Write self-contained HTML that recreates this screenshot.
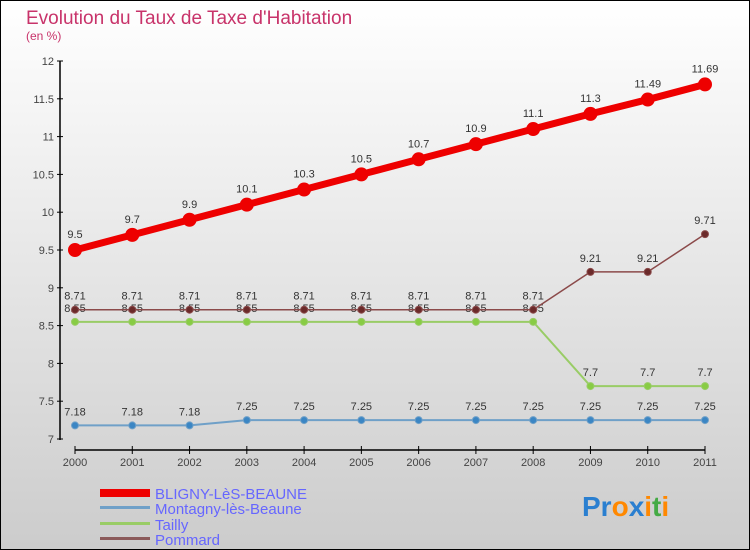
<!DOCTYPE html>
<html><head><meta charset="utf-8"><style>
body{margin:0}
svg{display:block;font-family:"Liberation Sans",sans-serif}
</style></head><body>
<svg id="chart" width="750" height="550">
<defs><linearGradient id="bg" x1="0" y1="0" x2="0" y2="1"><stop offset="0" stop-color="#ffffff"/><stop offset="1" stop-color="#cccccc"/></linearGradient></defs>
<rect x="0.5" y="0.5" width="749" height="549" fill="url(#bg)" stroke="#000"/>
<text x="26" y="24" font-size="19" fill="#c8336a">Evolution du Taux de Taxe d'Habitation</text>
<text x="26" y="40" font-size="12" fill="#c8336a">(en %)</text>
<g id="axes"></g><g id="series"></g>
<g>
<rect x="100" y="489" width="50" height="8" fill="#e00"/>
<text x="155" y="499" font-size="15" fill="#6666ff">BLIGNY-LèS-BEAUNE</text>
<rect x="100" y="506" width="50" height="3" fill="#6fa0c8"/>
<text x="155" y="514" font-size="15" fill="#6666ff">Montagny-lès-Beaune</text>
<rect x="100" y="522" width="50" height="3" fill="#99cc66"/>
<text x="155" y="530" font-size="15" fill="#6666ff">Tailly</text>
<rect x="100" y="537" width="50" height="3" fill="#8b5a5a"/>
<text x="155" y="545" font-size="15" fill="#6666ff">Pommard</text>
</g>
<g font-size="28" font-weight="bold">
<text x="582" y="516"><tspan fill="#2a7fd0">Pr</tspan><tspan fill="#ff8800">o</tspan><tspan fill="#2a7fd0">x</tspan><tspan fill="#ff8800">i</tspan><tspan fill="#44aa44">t</tspan><tspan fill="#ff8800">i</tspan></text>
</g>
</svg>
<script>
const years=[2000,2001,2002,2003,2004,2005,2006,2007,2008,2009,2010,2011];
const bligny=[9.5,9.7,9.9,10.1,10.3,10.5,10.7,10.9,11.1,11.3,11.49,11.69];
const montagny=[7.18,7.18,7.18,7.25,7.25,7.25,7.25,7.25,7.25,7.25,7.25,7.25];
const tailly=[8.55,8.55,8.55,8.55,8.55,8.55,8.55,8.55,8.55,7.7,7.7,7.7];
const pommard=[8.71,8.71,8.71,8.71,8.71,8.71,8.71,8.71,8.71,9.21,9.21,9.71];
const yTicks=[7,7.5,8,8.5,9,9.5,10,10.5,11,11.5,12];
const NS="http://www.w3.org/2000/svg";
const x=i=>75+i*(705-75)/(years.length-1);
const y=v=>439-(v-7)*(439-61)/5;
function mk(tag,attrs,parent){const e=document.createElementNS(NS,tag);for(const k in attrs)e.setAttribute(k,attrs[k]);parent.appendChild(e);return e;}
const ax=document.getElementById('axes');
let yl=mk('line',{x1:60,y1:61,x2:60,y2:440,stroke:'#000','stroke-width':1.5},ax);


let xl=mk('line',{x1:75,y1:450,x2:705,y2:450,stroke:'#000','stroke-width':1.5},ax);


yTicks.forEach(t=>{
 mk('line',{x1:57,x2:63,y1:y(t),y2:y(t),stroke:'#000'},ax);
 const tx=mk('text',{x:54,y:y(t)+4,'font-size':11,fill:'#444','text-anchor':'end'},ax);
 tx.textContent=String(t);
 
 
});
years.forEach((yr,i)=>{
 mk('line',{x1:x(i),x2:x(i),y1:446,y2:454,stroke:'#000'},ax);
 const tx=mk('text',{x:x(i),y:466,'font-size':11,fill:'#444','text-anchor':'middle'},ax);
 tx.textContent=String(yr);
 
 
});
const sg=document.getElementById('series');
function series(name,vals,color,w,r,fill,labelDy){
 const g=mk('g',{},sg);
 
 
 mk('polyline',{points:vals.map((v,i)=>x(i)+','+y(v)).join(' '),fill:'none',stroke:color,'stroke-width':w},g);
 vals.forEach((v,i)=>{
  const c=mk('circle',{cx:x(i),cy:y(v),r:r,fill:fill,stroke:color,'stroke-width':1},g);
  
  
  const t=mk('text',{x:x(i),y:y(v)+labelDy,'font-size':11,fill:'#333','text-anchor':'middle'},g);
  t.textContent=String(v);
  
  
 });
}
series('montagny',montagny,'#6fa0c8',2,3.5,'#3b86c4',-10);
series('tailly',tailly,'#99cc66',2,3.5,'#88cc44',-10);
series('pommard',pommard,'#8b4a4a',1.5,3.5,'#6b2a2a',-10);
series('bligny',bligny,'#e00',7,6.5,'#e00',-12);
</script>
</body></html>
